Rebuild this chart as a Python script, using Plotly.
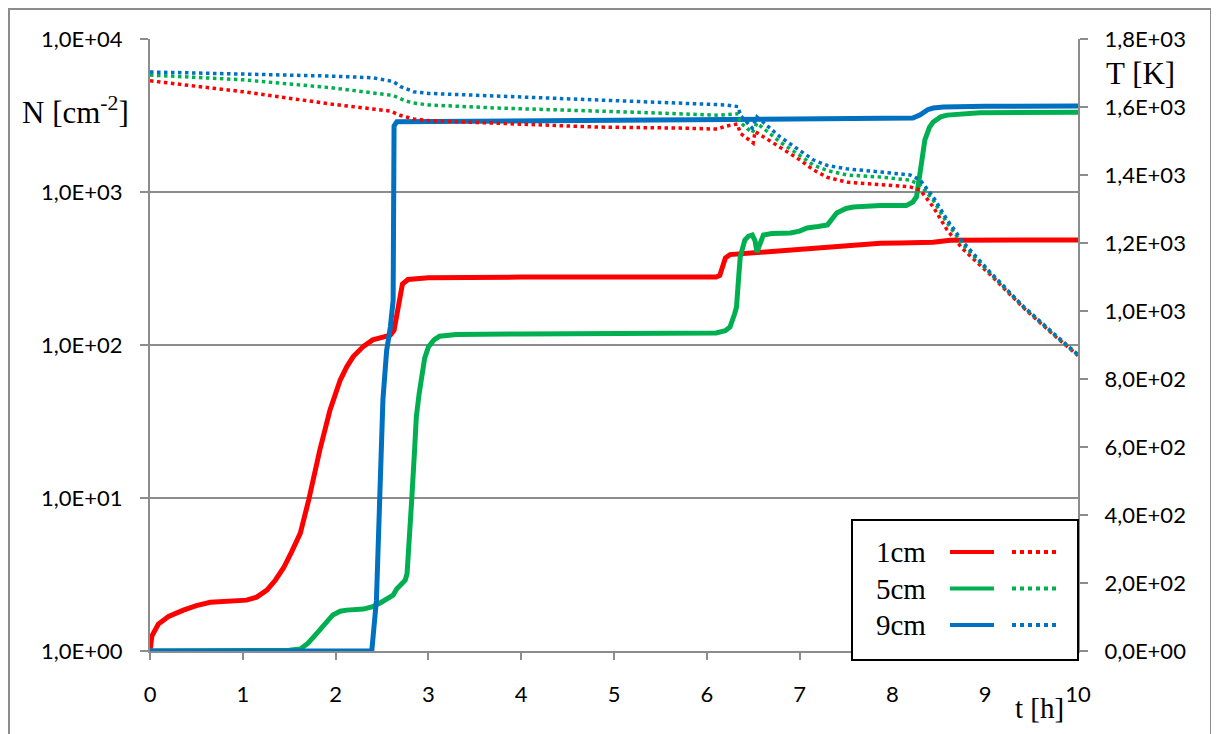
import plotly.graph_objects as go

# ---------------- data ----------------
# N (solid, left log axis) [cm^-2]
t_n1 = [0, 0.02, 0.09, 0.2, 0.36, 0.5, 0.65, 0.85, 1.04, 1.15, 1.26, 1.35, 1.44, 1.53, 1.62, 1.71, 1.83, 1.94,
        2.05, 2.12, 2.19, 2.3, 2.4, 2.52, 2.59, 2.63, 2.68, 2.72, 2.78, 3.0, 4.0, 5.0, 6.1, 6.14, 6.2, 6.25,
        6.5, 6.79, 7.33, 7.87, 8.08, 8.44, 8.62, 9.0, 10.0]
n1 = [1.0, 1.25, 1.5, 1.68, 1.85, 1.98, 2.08, 2.13, 2.15, 2.25, 2.5, 2.9, 3.5, 4.5, 5.9, 9.7, 20.6, 37.6,
      59, 72, 84, 98, 108, 113, 116, 125, 175, 250, 268, 275, 278, 278, 278, 285, 370, 390,
      400, 417, 436, 462, 464, 470, 484, 486, 486]

t_n5 = [0, 1.0, 1.5, 1.62, 1.7, 1.8, 1.9, 1.97, 2.05, 2.12, 2.3, 2.4, 2.48, 2.56, 2.62, 2.66, 2.71, 2.75,
        2.77, 2.8, 2.82, 2.85, 2.87, 2.9, 2.93, 2.96, 3.0, 3.06, 3.12, 3.3, 4.0, 5.0, 6.1, 6.2, 6.25, 6.3,
        6.32, 6.34, 6.36, 6.41, 6.45, 6.49, 6.52, 6.54, 6.57, 6.61, 6.7, 6.9, 7.0, 7.08, 7.2, 7.3, 7.4,
        7.5, 7.58, 7.87, 8.15, 8.22, 8.26, 8.3, 8.35, 8.4, 8.44, 8.52, 8.59, 8.94, 10.0]
n5 = [1.0, 1.0, 1.01, 1.03, 1.12, 1.31, 1.55, 1.72, 1.82, 1.85, 1.88, 1.95, 2.06, 2.2, 2.32, 2.55, 2.78, 2.9,
      3.2, 5.5, 9.7, 20, 34, 48, 62, 82, 97, 108, 114, 117, 118, 118, 120, 124, 131, 160,
      177, 260, 376, 486, 515, 524, 480, 405, 450, 524, 535, 540, 555, 582, 595, 610, 730,
      780, 797, 815, 815, 860, 930, 1320, 2190, 2650, 2870, 3100, 3180, 3300, 3320]

t_n9 = [0, 2.39, 2.44, 2.48, 2.51, 2.55, 2.59, 2.62, 2.63, 2.66, 3.5, 5.0, 6.0, 7.0, 8.0, 8.22, 8.3, 8.38,
        8.44, 8.55, 9.0, 10.0]
n9 = [1.0, 1.0, 2.15, 9.7, 44, 92, 131, 196, 2700, 2880, 2900, 2930, 2960, 2990, 3020, 3040, 3200, 3450,
      3540, 3600, 3630, 3650]

# T (dotted, right axis) [K]
t_T1 = [0, 1.0, 1.94, 2.34, 2.59, 2.7, 2.84, 3.0, 3.63, 4.81, 5.71, 6.11, 6.21, 6.33, 6.36, 6.5, 6.52,
        6.79, 7.0, 7.15, 7.3, 7.51, 7.87, 8.19, 8.3, 8.44, 8.59, 8.76, 9.05, 9.41, 9.77, 9.95, 10.0]
T1 = [1677, 1645, 1609, 1596, 1588, 1575, 1565, 1560, 1553, 1541, 1538, 1535, 1544, 1550, 1523, 1494, 1528,
      1482, 1445, 1415, 1393, 1379, 1371, 1365, 1356, 1306, 1238, 1182, 1108, 1010, 922, 879, 869]

t_T5 = [0, 1.0, 1.94, 2.5, 2.62, 2.75, 2.84, 3.0, 3.74, 5.17, 6.11, 6.34, 6.36, 6.43, 6.49, 6.54,
        6.79, 7.0, 7.15, 7.3, 7.51, 7.87, 8.19, 8.3, 8.44, 8.59, 8.76, 9.05, 9.41, 9.77, 9.95, 10.0]
T5 = [1694, 1680, 1657, 1640, 1634, 1618, 1612, 1606, 1597, 1585, 1576, 1580, 1555, 1538, 1524, 1553,
      1497, 1458, 1429, 1413, 1400, 1394, 1385, 1371, 1326, 1259, 1195, 1112, 1012, 924, 880, 870]

t_T9 = [0, 1.0, 1.94, 2.4, 2.55, 2.62, 2.7, 2.84, 3.0, 3.74, 5.17, 6.21, 6.34, 6.36, 6.49, 6.54,
        6.79, 7.0, 7.15, 7.3, 7.51, 7.87, 8.19, 8.3, 8.44, 8.59, 8.76, 9.05, 9.41, 9.77, 9.95, 10.0]
T9 = [1703, 1698, 1691, 1686, 1680, 1675, 1660, 1645, 1640, 1632, 1618, 1606, 1601, 1576, 1538, 1571,
      1512, 1473, 1444, 1428, 1418, 1409, 1400, 1385, 1335, 1268, 1203, 1115, 1014, 926, 882, 872]

labels = ["1cm", "5cm", "9cm"]
colors = ["#FF0000", "#00B050", "#0070C0"]

x_ticks = list(range(0, 11))
n_tickvals = [1, 10, 100, 1000, 10000]
n_ticktext = ["1,0E+00", "1,0E+01", "1,0E+02", "1,0E+03", "1,0E+04"]
T_tickvals = [0, 200, 400, 600, 800, 1000, 1200, 1400, 1600, 1800]
T_ticktext = ["0,0E+00", "2,0E+02", "4,0E+02", "6,0E+02", "8,0E+02",
              "1,0E+03", "1,2E+03", "1,4E+03", "1,6E+03", "1,8E+03"]

# ---------------- figure ----------------
fig = go.Figure()
for tx, ny, c, lab in [(t_n1, n1, colors[0], labels[0]), (t_n5, n5, colors[1], labels[1]),
                       (t_n9, n9, colors[2], labels[2])]:
    fig.add_trace(go.Scatter(x=tx, y=ny, mode="lines", name="N " + lab,
                             line=dict(color=c, width=5), yaxis="y"))
for tx, Ty, c, lab in [(t_T1, T1, colors[0], labels[0]), (t_T5, T5, colors[1], labels[1]),
                       (t_T9, T9, colors[2], labels[2])]:
    fig.add_trace(go.Scatter(x=tx, y=Ty, mode="lines", name="T " + lab,
                             line=dict(color=c, width=3.5, dash="dot"), yaxis="y2"))

# page body has an 8px margin: figure starts at page (8, 8)
OFF = 8
W, H = 1219 - OFF, 734 - OFF
L, R, TOP, BOT = 150 - OFF, 1078 - OFF, 39 - OFF, 651 - OFF
pw, ph = R - L, BOT - TOP


def px(x):  # page pixel -> paper coordinate
    return (x - OFF - L) / pw


def py(y):
    return (BOT - (y - OFF)) / ph


grid = "#8c8c8c"
tickfont = dict(family="Lato", size=22, color="#000000")

fig.update_layout(
    width=W, height=H, autosize=False,
    margin=dict(l=L, r=W - R, t=TOP, b=H - BOT, pad=0),
    paper_bgcolor="white", plot_bgcolor="white",
    showlegend=False,
    xaxis=dict(range=[0, 10], tickvals=x_ticks, ticktext=[str(v) for v in x_ticks],
               showgrid=False, zeroline=False, showline=True, linecolor=grid, linewidth=2,
               ticks="outside", ticklen=7, tickwidth=2, tickcolor=grid,
               tickfont=tickfont, ticklabelstandoff=16),
    yaxis=dict(type="log", range=[0, 4], tickvals=n_tickvals, ticktext=n_ticktext,
               showgrid=True, gridcolor=grid, gridwidth=2, zeroline=False,
               showline=True, linecolor=grid, linewidth=2,
               ticks="outside", ticklen=8, tickwidth=2, tickcolor=grid,
               tickfont=tickfont, ticklabelstandoff=13),
    yaxis2=dict(range=[0, 1800], tickvals=T_tickvals, ticktext=T_ticktext,
                overlaying="y", side="right", showgrid=False, zeroline=False,
                showline=True, linecolor=grid, linewidth=2,
                ticks="outside", ticklen=8, tickwidth=2, tickcolor=grid,
                tickfont=tickfont, ticklabelstandoff=12),
)

shapes = []
# outer chart border
shapes.append(dict(type="rect", xref="paper", yref="paper",
                   x0=px(9), x1=px(1211), y0=py(745), y1=py(9),
                   line=dict(color="#8c8c8c", width=2), layer="below"))
# legend box
lx0, lx1, ly0, ly1 = 852, 1078, 520, 660
shapes.append(dict(type="rect", xref="paper", yref="paper",
                   x0=px(lx0), x1=px(lx1), y0=py(ly1), y1=py(ly0),
                   line=dict(color="black", width=2), fillcolor="white", layer="above"))
serif = dict(family="Liberation Serif", size=29, color="black")
annotations = []
for i, (lab, c) in enumerate(zip(labels, colors)):
    yy = 552 + i * 36.5
    shapes.append(dict(type="line", xref="paper", yref="paper",
                       x0=px(950), x1=px(994), y0=py(yy), y1=py(yy),
                       line=dict(color=c, width=4), layer="above"))
    shapes.append(dict(type="line", xref="paper", yref="paper",
                       x0=px(1012), x1=px(1057), y0=py(yy), y1=py(yy),
                       line=dict(color=c, width=4, dash="dot"), layer="above"))
    annotations.append(dict(text=lab, xref="paper", yref="paper", x=px(928), y=py(yy),
                            xanchor="right", yanchor="middle", showarrow=False, font=serif))

annotations.append(dict(text="N [cm<sup>-2</sup>]", xref="paper", yref="paper",
                        x=px(20), y=py(110), xanchor="left", yanchor="middle",
                        showarrow=False, font=dict(family="Liberation Serif", size=31, color="black")))
annotations.append(dict(text="T [K]", xref="paper", yref="paper",
                        x=px(1104), y=py(73), xanchor="left", yanchor="middle",
                        showarrow=False, font=dict(family="Liberation Serif", size=31, color="black")))
annotations.append(dict(text="t [h]", xref="paper", yref="paper",
                        x=px(1066), y=py(708), xanchor="right", yanchor="middle",
                        showarrow=False, font=serif))

fig.update_layout(shapes=shapes, annotations=annotations)
fig.write_html("out.html")
